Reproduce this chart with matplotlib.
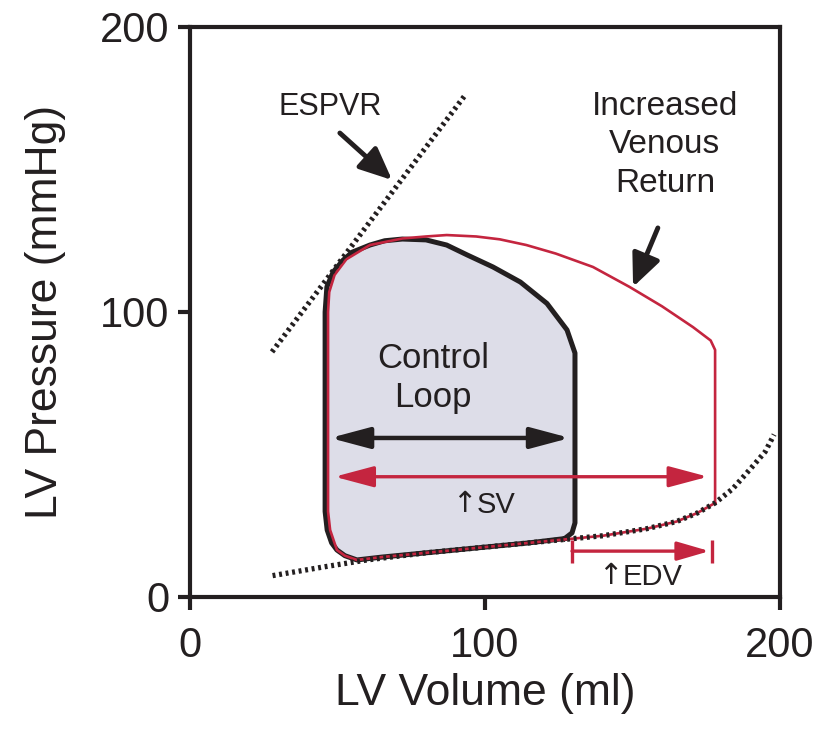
import matplotlib
matplotlib.use("Agg")
import matplotlib.pyplot as plt

plt.rcParams['font.family'] = ['Liberation Sans', 'DejaVu Sans']

# --- data (volume in ml, pressure in mmHg) ---
ctrl_vol = [127, 129.5, 130.5, 130.5, 127.8, 121, 112, 102.7, 94, 87, 80, 72, 66, 61, 55, 51.9, 48.5, 46.4,
            45.8, 45.8, 46.5, 48, 49.8, 52.5, 56.6, 65, 80, 100, 115, 127]
ctrl_prs = [20.5, 22.5, 26, 85.6, 93.7, 103, 110.5, 115.8, 120, 123.5, 125.3, 125.6, 125, 123.5, 121, 118.2, 114, 108.8,
            100, 30, 23.5, 19, 16.5, 14.5, 13, 14, 15.5, 17.5, 19, 20.5]

inc_vol = [178, 178, 176.5, 170.5, 160, 149, 136.6, 124, 114, 105, 97, 87, 80, 72, 61, 53, 49, 47.2,
           46.8, 46.8, 47.5, 49.8, 52.5, 56.6, 65, 80, 100, 120, 140, 155, 165, 172, 178]
inc_prs = [33, 86.7, 90, 94.7, 102, 108.8, 115.8, 120.5, 123.5, 125.5, 126.5, 127, 126.5, 125.8, 123.5, 118.5, 113, 107,
           100, 30, 23.5, 16.5, 14.5, 13, 14, 15.5, 17.5, 19.5, 21.5, 24, 26.5, 29.5, 33]

edpvr_vol = [28, 45, 60, 80, 100, 120, 140, 155, 165, 172, 178, 184, 190, 195, 198]
edpvr_prs = [7.5, 10.5, 13, 15.5, 17.5, 19.5, 21.5, 24, 26.5, 29.5, 33, 38, 45, 51, 57]

espvr_vol = [27.8, 93.2]
espvr_prs = [86, 176]

esv_ctrl, edv_ctrl = 47.5, 128.8
esv_inc, edv_inc = 49, 175.6
sv_ctrl_y, sv_inc_y, edv_y = 55.8, 42.2, 16.1

ticks = [0, 100, 200]

black = '#231f20'
red = '#c4253f'
fill = '#dddde8'

fig = plt.figure(figsize=(8.28, 7.36), dpi=100)
ax = fig.add_axes([190 / 828, 1 - 597 / 736, 590 / 828, 570 / 736])
ax.set_xlim(0, 200)
ax.set_ylim(0, 200)

# control loop
ax.fill(ctrl_vol, ctrl_prs, color=fill, zorder=1)
ax.plot(ctrl_vol, ctrl_prs, color=black, lw=3.6, solid_joinstyle='round', zorder=2)
# increased venous return loop
ax.plot(inc_vol, inc_prs, color=red, lw=1.9, solid_joinstyle='round', zorder=3)

# pressure-volume relations (dotted)
ax.plot(edpvr_vol, edpvr_prs, color=black, lw=3.8, linestyle=(0, (0.55, 0.7)), zorder=4)
ax.plot(espvr_vol, espvr_prs, color=black, lw=3.8, linestyle=(0, (0.55, 0.7)), zorder=4)

# stroke volume arrows
ax.annotate('', xy=(edv_ctrl, sv_ctrl_y), xytext=(esv_ctrl, sv_ctrl_y),
            arrowprops=dict(arrowstyle='<|-|>,head_length=1.2,head_width=0.32', color=black,
                            lw=3.2, mutation_scale=20, shrinkA=0, shrinkB=0), zorder=5)
ax.annotate('', xy=(edv_inc, sv_inc_y), xytext=(esv_inc, sv_inc_y),
            arrowprops=dict(arrowstyle='<|-|>,head_length=1.2,head_width=0.32', color=red,
                            lw=2.4, mutation_scale=20, shrinkA=0, shrinkB=0), zorder=5)

# EDV increase bar
ax.annotate('', xy=(edv_inc + 0.5, edv_y), xytext=(edv_ctrl + 0.7, edv_y),
            arrowprops=dict(arrowstyle='-|>,head_length=1.1,head_width=0.32', color=red,
                            lw=2.4, mutation_scale=18, shrinkA=0, shrinkB=0), zorder=5)
ax.vlines([edv_ctrl + 0.7, edv_inc + 1.5], edv_y - 4, edv_y + 4, color=red, lw=2.4, zorder=5)

# text labels
ax.text(82.4, 76.8, 'Control\nLoop', ha='center', va='center', fontsize=25, color=black,
        linespacing=1.25, zorder=6)
ax.text(97.3, 32.3, 'SV', ha='left', va='center', fontsize=21, color=black, zorder=6)
ax.text(97.0, 32.8, '↑', ha='right', va='center', fontsize=21, color=black, zorder=6,
        family=['DejaVu Sans'])
ax.text(146.8, 7, 'EDV', ha='left', va='center', fontsize=21, color=black, zorder=6)
ax.text(146.5, 7.5, '↑', ha='right', va='center', fontsize=21, color=black, zorder=6,
        family=['DejaVu Sans'])
ax.text(47.5, 172, 'ESPVR', ha='center', va='center', fontsize=22, color=black)
ax.text(161, 158.6, 'Increased\nVenous\nReturn', ha='center', va='center', fontsize=24,
        color=black, linespacing=1.3)

# pointer arrows
ax.annotate('', xy=(68.5, 146.3), xytext=(50.8, 162.8),
            arrowprops=dict(arrowstyle='-|>,head_length=0.9,head_width=0.4', color=black,
                            lw=3.5, mutation_scale=22, shrinkA=0, shrinkB=0))
ax.annotate('', xy=(150.2, 108.8), xytext=(158.6, 129.5),
            arrowprops=dict(arrowstyle='-|>,head_length=0.9,head_width=0.4', color=black,
                            lw=3.5, mutation_scale=22, shrinkA=0, shrinkB=0))

# axes styling
for s in ax.spines.values():
    s.set_linewidth(3)
    s.set_color(black)
ax.set_xticks(ticks)
ax.set_yticks(ticks)
ax.tick_params(direction='out', length=9, width=3, color=black, labelsize=30, labelcolor=black)
ax.tick_params(axis='x', pad=12)
ax.tick_params(axis='y', pad=6)
ax.set_xlabel('LV Volume (ml)', fontsize=32, color=black, labelpad=5)
ax.set_ylabel('LV Pressure (mmHg)', fontsize=32, color=black, labelpad=24)

fig.savefig('out.png', dpi=100)
